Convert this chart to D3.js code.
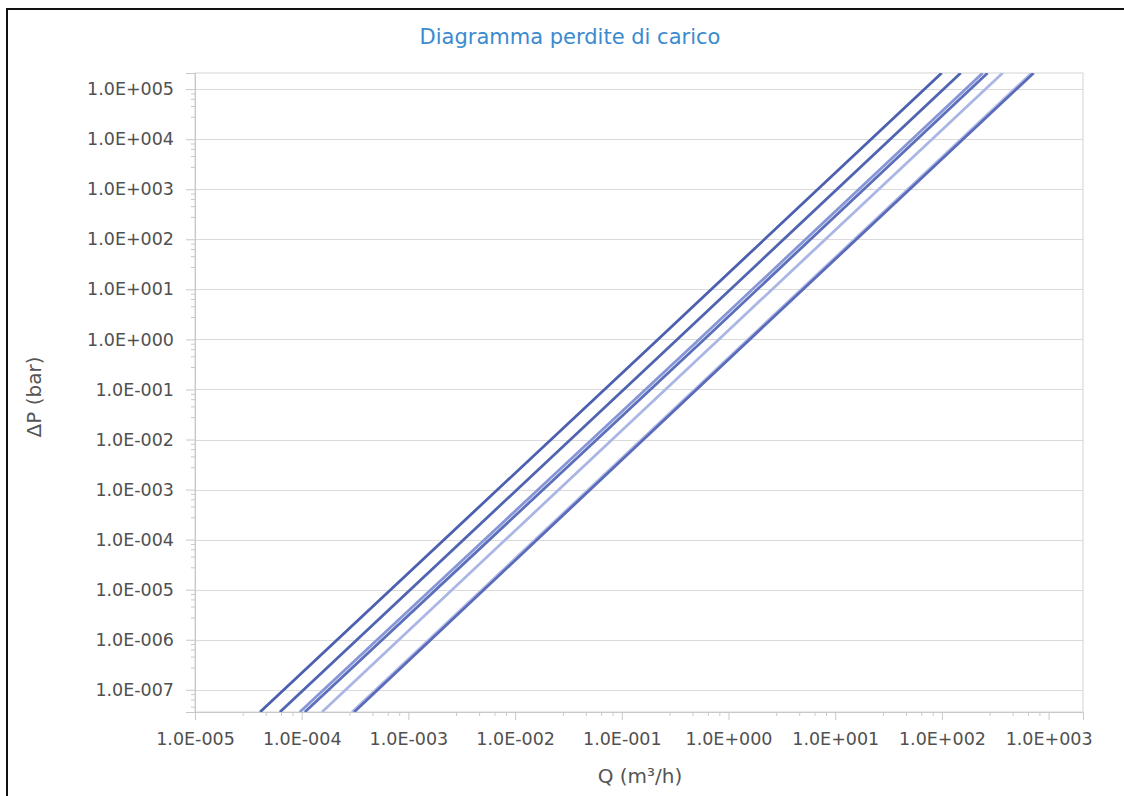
<!DOCTYPE html>
<html>
<head>
<meta charset="utf-8">
<script src="https://cdn.jsdelivr.net/npm/d3@7"></script>
<style>
    body { margin: 0; background: white; }
    text { font-family: "DejaVu Sans", Verdana, sans-serif; }
</style>
</head>
<body>
<div id="chart"></div>
<script>
// Pressure-drop chart: log-log, one line per valve size.

const chartTitle = 'Diagramma perdite di carico'
const xTitle = 'Q (m\u00b3/h)'
const yTitle = '\u0394P (bar)'

const xDomain = [1e-5, 2.1e3]
const yDomain = [3.6e-8, 2.1e5]
const xTicks = [1e-5, 1e-4, 1e-3, 1e-2, 1e-1, 1e0, 1e1, 1e2, 1e3]
const yTicks = [1e-7, 1e-6, 1e-5, 1e-4, 1e-3, 1e-2, 1e-1, 1e0, 1e1, 1e2, 1e3, 1e4, 1e5]
const minorSteps = [2.8, 4.6, 6.4, 8.2]

// every series shares the same delta-P points
const dpValues = [3.6e-8, 1, 2.1e5]
const seriesNames = ['A', 'B', 'C', 'D', 'E', 'F', 'G']
const qA = [4.07e-5, 0.218, 99.5]
const qB = [6.25e-5, 0.33, 150]
const qC = [9.6e-5, 0.53, 241]
const qD = [1.07e-4, 0.59, 268]
const qE = [1.55e-4, 0.81, 371]
const qF = [2.96e-4, 1.52, 693]
const qG = [3.1e-4, 1.58, 724]
const seriesQ = [qA, qB, qC, qD, qE, qF, qG]
const seriesColors = ['#4d60af', '#5064b2', '#8796d6', '#5b6fbb', '#aab6e4', '#b3bde8', '#5a6cb9']

function getTranslateString(x, y) {
    return 'translate(' + x + ', ' + y + ')'
}

function formatSci(v) {
    let exp = Math.round(Math.log10(v))
    let mant = (v / Math.pow(10, exp)).toFixed(1)
    let sign = exp < 0 ? '-' : '+'
    return mant + 'E' + sign + String(Math.abs(exp)).padStart(3, '0')
}

class LossChart {
    constructor(width, height, divElementName) {
        this.width = width
        this.height = height
        this.divElementName = divElementName
        this.initialize()
    }

    initialize = () => {
        this.left = 195
        this.right = 1083
        this.top = 73
        this.bottom = 712
        this.svg = d3.select(this.divElementName).append('svg').attr('width', this.width).attr('height', this.height)
        this.xScale = d3.scaleLog().domain(xDomain).range([this.left, this.right])
        this.yScale = d3.scaleLog().domain(yDomain).range([this.bottom, this.top])
        this.drawFrame()
        this.drawGrid()
        this.drawAxes()
        this.drawLines()
        this.drawTitles()
    }

    drawFrame = () => {
        this.svg.append('rect').attr('x', 7).attr('y', 9).attr('width', 1140).attr('height', 820)
            .style('fill', 'none').style('stroke', '#111').style('stroke-width', 2)
        this.svg.append('rect').attr('x', this.left).attr('y', this.top)
            .attr('width', this.right - this.left).attr('height', this.bottom - this.top)
            .style('fill', 'none').style('stroke', '#d4d4d4')
    }

    drawGrid = () => {
        for (let v of yTicks) {
            let y = Math.round(this.yScale(v)) + 0.5
            this.svg.append('line').attr('x1', this.left).attr('x2', this.right).attr('y1', y).attr('y2', y)
                .style('stroke', '#dadada')
        }
    }

    minorTicks = (ticks) => {
        let out = []
        for (let t of ticks) for (let s of minorSteps) out.push(t * s / 10)
        out.push(ticks[ticks.length - 1] * minorSteps[0])
        return out
    }

    drawAxes = () => {
        let xMinor = this.minorTicks(xTicks).filter(v => v > xDomain[0] && v < xDomain[1])
        let yMinor = this.minorTicks([1e-8].concat(yTicks)).filter(v => v > yDomain[0] && v < yDomain[1])

        let xMinorAxis = d3.axisBottom(this.xScale).tickValues(xMinor).tickSize(4).tickFormat('')
        let xAxis = d3.axisBottom(this.xScale).tickValues(xTicks).tickSize(8).tickPadding(13).tickFormat(formatSci)
        let yMinorAxis = d3.axisLeft(this.yScale).tickValues(yMinor).tickSize(4).tickFormat('')
        let yAxis = d3.axisLeft(this.yScale).tickValues(yTicks).tickSize(9).tickPadding(12).tickFormat(formatSci)

        let gx = this.svg.append('g').attr('transform', getTranslateString(0, this.bottom))
        gx.append('g').call(xMinorAxis)
        gx.append('g').call(xAxis)
        let gy = this.svg.append('g').attr('transform', getTranslateString(this.left, 0))
        gy.append('g').call(yMinorAxis)
        gy.append('g').call(yAxis)

        for (let g of [gx, gy]) {
            g.selectAll('.domain').style('stroke', '#c8c8c8')
            g.selectAll('.tick line').style('stroke', '#c8c8c8')
            g.selectAll('text').style('font-family', '"DejaVu Sans", Verdana, sans-serif')
                .style('font-size', '17.5px').style('fill', '#505050')
        }
    }

    drawLines = () => {
        this.svg.append('clipPath').attr('id', 'plot-clip').append('rect')
            .attr('x', this.left).attr('y', this.top)
            .attr('width', this.right - this.left).attr('height', this.bottom - this.top)
        let line = d3.line().x(d => this.xScale(d[0])).y(d => this.yScale(d[1]))
        let g = this.svg.append('g').attr('clip-path', 'url(#plot-clip)')
        for (let i = 0; i < seriesNames.length; i++) {
            let pts = seriesQ[i].map((q, j) => [q, dpValues[j]])
            g.append('path').datum(pts).attr('d', line)
                .style('fill', 'none').style('stroke', seriesColors[i]).style('stroke-width', 2.8)
        }
    }

    drawTitles = () => {
        this.svg.append('text').attr('x', 570).attr('y', 44).attr('text-anchor', 'middle')
            .attr('font-size', 21).style('fill', '#3a8ad0').text(chartTitle)
        this.svg.append('text').attr('x', 640).attr('y', 783).attr('text-anchor', 'middle')
            .attr('font-size', 20).style('fill', '#555').text(xTitle)
        this.svg.append('text').attr('transform', getTranslateString(41, 397) + ' rotate(-90)')
            .attr('text-anchor', 'middle').attr('font-size', 20).style('fill', '#555').text(yTitle)
    }
}

new LossChart(1124, 796, '#chart')
</script>
</body>
</html>
